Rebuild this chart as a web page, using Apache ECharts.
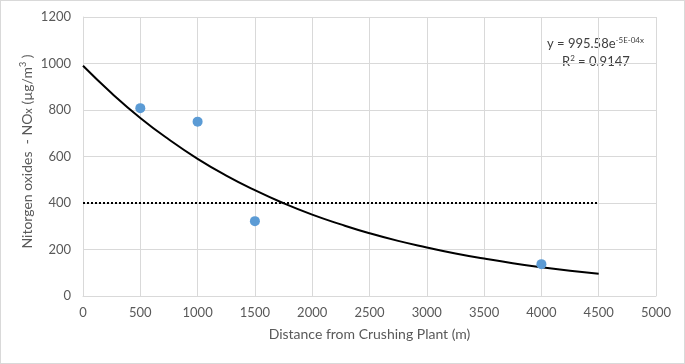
<!DOCTYPE html>
<html>
<head>
<meta charset="utf-8">
<script src="https://cdn.jsdelivr.net/npm/echarts@6/dist/echarts.min.js"></script>
<style>
html, body { margin: 0; padding: 0; background: #fff; }
#main { width: 683px; height: 362px; border: 1px solid #d9d9d9; }
</style>
</head>
<body>
<div id="main"></div>
<script>
// measured points
var distances = [500, 1000, 1500, 4000];
var noxValues = [808, 750, 322, 137];
// exponential trendline
var trendX = [0, 250, 500, 750, 1000, 1250, 1500, 1750, 2000, 2250, 2500, 2750, 3000, 3250, 3500, 3750, 4000, 4250, 4500];
var trendY = [990, 872, 766, 673, 590, 518, 455, 399, 350, 308, 270, 237, 209, 183, 161, 141, 124, 109, 96];
// limit line
var limitX = [0, 4500];
var limitY = [400, 400];

var font = "Lato, 'Open Sans', sans-serif";
var myChart = echarts.init(document.getElementById("main"));

var option = {
  backgroundColor: "#fff",
  animation: false,
  grid: { left: 82, right: 28, top: 16, bottom: 67 },
  xAxis: {
    type: "value",
    min: 0, max: 5000, interval: 500,
    name: "Distance from Crushing Plant (m)",
    nameLocation: "middle",
    nameGap: 31,
    nameTextStyle: { color: "#595959", fontSize: 14, fontFamily: font },
    axisLine: { show: true, lineStyle: { color: "#d9d9d9" } },
    axisTick: { show: false },
    axisLabel: { color: "#595959", fontSize: 13, fontFamily: font, margin: 10, formatter: function (v) { return String(v); } },
    splitLine: { show: true, lineStyle: { color: "#d9d9d9" } }
  },
  yAxis: {
    type: "value",
    min: 0, max: 1200, interval: 200,
    name: "{t|Nitorgen oxides  - NO}{s|x}{t| (µg/m}{sup|3}{t| )}",
    nameLocation: "middle",
    nameGap: 48,
    nameMoveOverlap: false,
    nameTextStyle: {
      padding: [0, 0, 0, 10],
      rich: {
        t: { color: "#595959", fontSize: 14, fontFamily: font },
        s: { color: "#595959", fontSize: 11, fontFamily: font, padding: [3, 0, 0, 0] },
        sup: { color: "#595959", fontSize: 9, fontFamily: font, padding: [0, 0, 7, 0] }
      }
    },
    axisLine: { show: true, lineStyle: { color: "#d9d9d9" } },
    axisTick: { show: false },
    axisLabel: { color: "#595959", fontSize: 13, fontFamily: font, margin: 12, formatter: function (v) { return String(v); } },
    splitLine: { show: true, lineStyle: { color: "#d9d9d9" } }
  },
  series: [
    {
      name: "limit",
      type: "line",
      data: limitX.map(function (x, i) { return [x, limitY[i]]; }),
      symbol: "none",
      lineStyle: { color: "#000", width: 2, type: [2, 2] },
      z: 2
    },
    {
      name: "trend",
      type: "line",
      data: trendX.map(function (x, i) { return [x, trendY[i]]; }),
      symbol: "none",
      smooth: true,
      lineStyle: { color: "#000", width: 2 },
      z: 3
    },
    {
      name: "NOx",
      type: "scatter",
      data: distances.map(function (x, i) { return [x, noxValues[i]]; }),
      symbolSize: 10,
      itemStyle: { color: "#5b9bd5", opacity: 1 },
      z: 4
    }
  ],
  graphic: [
    {
      type: "text",
      left: 546, top: 35,
      style: {
        text: "{a|y = 995.58e}{b|-5E-04x}",
        rich: {
          a: { fill: "#404040", fontSize: 13, fontFamily: font },
          b: { fill: "#404040", fontSize: 8, fontFamily: font, padding: [0, 0, 7, 0] }
        }
      }
    },
    {
      type: "text",
      left: 561, top: 53,
      style: {
        text: "{a|R}{b|2}{a| = 0.9147}",
        rich: {
          a: { fill: "#404040", fontSize: 13, fontFamily: font },
          b: { fill: "#404040", fontSize: 8, fontFamily: font, padding: [0, 0, 7, 0] }
        }
      }
    }
  ]
};
myChart.setOption(option);
</script>
</body>
</html>
